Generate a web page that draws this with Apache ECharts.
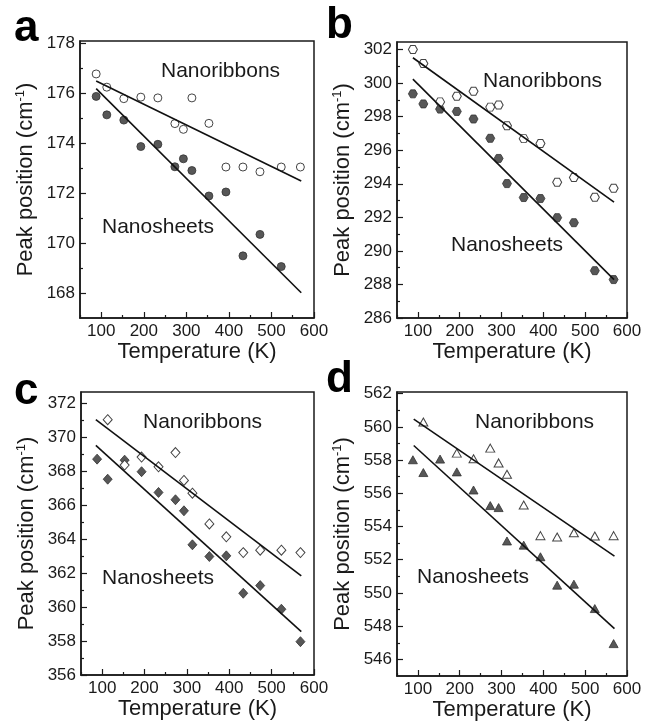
<!DOCTYPE html>
<html>
<head>
<meta charset="utf-8">
<title>Peak position vs temperature</title>
<script src="https://cdn.jsdelivr.net/npm/echarts@6/dist/echarts.min.js"></script>
<style>
  html, body { margin: 0; padding: 0; background: #fff; }
  #chart { width: 650px; height: 723px; }
</style>
</head>
<body>
<div id="chart"></div>
<script>
// temperatures (K) and x tick labels
const tempAll = [88, 113, 153, 193, 233, 273, 293, 313, 353, 393, 433, 473, 523, 568];
const xTicks = [100, 200, 300, 400, 500, 600];

// panel a - circles
const aRibbonT = [88, 113, 153, 193, 233, 273, 293, 313, 353, 393, 433, 473, 523, 568];
const aRibbonY = [176.78, 176.25, 175.79, 175.85, 175.82, 174.79, 174.56, 175.82, 174.8, 173.05, 173.05, 172.86, 173.05, 173.05];
const aSheetT = [88, 113, 153, 193, 233, 273, 293, 313, 353, 393, 433, 473, 523];
const aSheetY = [175.88, 175.14, 174.93, 173.87, 173.96, 173.06, 173.38, 172.91, 171.89, 172.05, 169.49, 170.35, 169.06];
const aFitT = [88, 570];
const aRibbonFit = [176.5, 172.49];
const aSheetFit = [176.19, 168.01];
const aYTicks = [168, 170, 172, 174, 176, 178];

// panel b - hexagons
const bRibbonT = [88, 113, 153, 193, 233, 273, 293, 313, 353, 393, 433, 473, 523, 568];
const bRibbonY = [302.0, 301.17, 298.88, 299.22, 299.51, 298.57, 298.69, 297.46, 296.69, 296.4, 294.09, 294.37, 293.2, 293.73];
const bSheetT = [88, 113, 153, 193, 233, 273, 293, 313, 353, 393, 433, 473, 523, 568];
const bSheetY = [299.36, 298.76, 298.45, 298.31, 297.86, 296.71, 295.51, 294.01, 293.18, 293.12, 291.98, 291.68, 288.82, 288.29];
const bFitT = [88, 569];
const bRibbonFit = [301.51, 292.91];
const bSheetFit = [300.24, 288.29];
const bYTicks = [286, 288, 290, 292, 294, 296, 298, 300, 302];

// panel c - diamonds
const cRibbonT = [113, 153, 193, 233, 273, 293, 313, 353, 393, 433, 473, 523, 568];
const cRibbonY = [371.02, 368.35, 368.82, 368.25, 369.09, 367.45, 366.7, 364.89, 364.13, 363.2, 363.34, 363.34, 363.2];
const cSheetT = [88, 113, 153, 193, 233, 273, 293, 313, 353, 393, 433, 473, 523, 568];
const cSheetY = [368.7, 367.52, 368.64, 367.96, 366.74, 366.31, 365.66, 363.66, 362.97, 363.01, 360.81, 361.26, 359.87, 357.96];
const cFitT = [85, 570];
const cRibbonFit = [371.02, 361.83];
const cSheetFit = [369.51, 358.55];
const cYTicks = [356, 358, 360, 362, 364, 366, 368, 370, 372];

// panel d - triangles
const dRibbonT = [113, 193, 233, 273, 293, 313, 353, 393, 433, 473, 523, 568];
const dRibbonY = [560.29, 558.42, 558.08, 558.72, 557.83, 557.15, 555.3, 553.45, 553.37, 553.63, 553.43, 553.45];
const dSheetT = [88, 113, 153, 193, 233, 273, 293, 313, 353, 393, 433, 473, 523, 568];
const dSheetY = [558.02, 557.25, 558.06, 557.29, 556.2, 555.26, 555.14, 553.13, 552.88, 552.18, 550.47, 550.53, 549.06, 546.95];
const dFitT = [90, 570];
const dRibbonFit = [560.47, 552.22];
const dSheetFit = [558.88, 547.85];
const dYTicks = [546, 548, 550, 552, 554, 556, 558, 560, 562];

const FONT = '"Liberation Sans", Arial, sans-serif';
const INK = '#1a1a1a';
const hexagon = 'path://M1,0 L3,0 L4,1.732 L3,3.464 L1,3.464 L0,1.732 Z';

const panels = [
  { letter: 'a', grid: { left: 80, top: 41, width: 234, height: 277 }, yMin: 167, yMax: 178.1, yTicks: aYTicks,
    symbol: 'circle', size: 8, rT: aRibbonT, rY: aRibbonY, sT: aSheetT, sY: aSheetY, fitT: aFitT, rFit: aRibbonFit, sFit: aSheetFit,
    letterPos: [14, 7], rText: [161, 61], sText: [102, 217] },
  { letter: 'b', grid: { left: 397, top: 42, width: 230, height: 276 }, yMin: 286, yMax: 302.45, yTicks: bYTicks,
    symbol: hexagon, size: [9, 8], rT: bRibbonT, rY: bRibbonY, sT: bSheetT, sY: bSheetY, fitT: bFitT, rFit: bRibbonFit, sFit: bSheetFit,
    letterPos: [326, 4], rText: [483, 71], sText: [451, 235] },
  { letter: 'c', grid: { left: 81, top: 392, width: 233, height: 283 }, yMin: 356, yMax: 372.65, yTicks: cYTicks,
    symbol: 'diamond', size: [9, 10], rT: cRibbonT, rY: cRibbonY, sT: cSheetT, sY: cSheetY, fitT: cFitT, rFit: cRibbonFit, sFit: cSheetFit,
    letterPos: [14, 370], rText: [143, 412], sText: [102, 568] },
  { letter: 'd', grid: { left: 397, top: 392, width: 230, height: 284 }, yMin: 545, yMax: 562.1, yTicks: dYTicks,
    symbol: 'triangle', size: [9, 8], rT: dRibbonT, rY: dRibbonY, sT: dSheetT, sY: dSheetY, fitT: dFitT, rFit: dRibbonFit, sFit: dSheetFit,
    letterPos: [326, 358], rText: [475, 412], sText: [417, 567] }
];

const grids = [], xAxes = [], yAxes = [], series = [], graphics = [];
const axisLineStyle = { color: INK, width: 1.5 };
const labelStyle = { fontSize: 17, color: INK, fontFamily: FONT };

panels.forEach((p, i) => {
  grids.push(Object.assign({ show: true, borderColor: INK, borderWidth: 1.5, backgroundColor: 'transparent' }, p.grid));

  const xMinor = xTicks.map(v => v - 50);
  const yMinor = p.yTicks.map(v => v - 1).filter(v => v > p.yMin).concat(p.yTicks.map(v => v + 1).filter(v => v < p.yMax));
  const uniqYMinor = Array.from(new Set(yMinor)).filter(v => p.yTicks.indexOf(v) < 0).sort((a, b) => a - b);

  // main x axis: labels + minor ticks
  xAxes.push({
    type: 'value', gridIndex: i, min: 50, max: 600, position: 'bottom',
    axisLine: { show: true, onZero: false, lineStyle: axisLineStyle },
    axisTick: { show: true, inside: true, length: 3, customValues: xMinor, lineStyle: { color: INK, width: 1.2 } },
    axisLabel: Object.assign({ customValues: xTicks, margin: 5 }, labelStyle),
    splitLine: { show: false },
    name: 'Temperature (K)', nameLocation: 'middle', nameGap: 22,
    nameTextStyle: { fontSize: 22, color: INK, fontFamily: FONT }
  });
  // overlay x axis: major ticks
  xAxes.push({
    type: 'value', gridIndex: i, min: 50, max: 600, position: 'bottom',
    axisLine: { show: false },
    axisTick: { show: true, inside: true, length: 6, customValues: xTicks, lineStyle: { color: INK, width: 1.2 } },
    axisLabel: { show: false },
    splitLine: { show: false }
  });

  yAxes.push({
    type: 'value', gridIndex: i, min: p.yMin, max: p.yMax, position: 'left',
    axisLine: { show: true, onZero: false, lineStyle: axisLineStyle },
    axisTick: { show: true, inside: true, length: 3, customValues: uniqYMinor, lineStyle: { color: INK, width: 1.2 } },
    axisLabel: Object.assign({ customValues: p.yTicks, margin: 5 }, labelStyle),
    splitLine: { show: false },
    name: '{n|Peak position (cm}{s|-1}{n|)}', nameLocation: 'middle', nameGap: 42, nameRotate: 90,
    nameTextStyle: {
      fontSize: 22, color: INK, fontFamily: FONT,
      rich: {
        n: { fontSize: 22, color: INK, fontFamily: FONT, lineHeight: 24 },
        s: { fontSize: 13, color: INK, fontFamily: FONT, verticalAlign: 'top' }
      }
    }
  });
  yAxes.push({
    type: 'value', gridIndex: i, min: p.yMin, max: p.yMax, position: 'left',
    axisLine: { show: false },
    axisTick: { show: true, inside: true, length: 6, customValues: p.yTicks, lineStyle: { color: INK, width: 1.2 } },
    axisLabel: { show: false },
    splitLine: { show: false }
  });

  const ax = { xAxisIndex: 2 * i, yAxisIndex: 2 * i };
  const fitLine = vals => Object.assign({
    type: 'line', data: p.fitT.map((t, k) => [t, vals[k]]), symbol: 'none', silent: true,
    lineStyle: { color: '#111', width: 1.6 }, animation: false
  }, ax);
  series.push(fitLine(p.rFit));
  series.push(fitLine(p.sFit));
  series.push(Object.assign({
    type: 'scatter', data: p.sT.map((t, k) => [t, p.sY[k]]), symbol: p.symbol, symbolSize: p.size, silent: true,
    itemStyle: { color: '#575757', borderColor: '#333', borderWidth: 0.8, opacity: 1 }, animation: false
  }, ax));
  series.push(Object.assign({
    type: 'scatter', data: p.rT.map((t, k) => [t, p.rY[k]]), symbol: p.symbol, symbolSize: p.size, silent: true,
    itemStyle: { color: '#fff', borderColor: '#444', borderWidth: 1, opacity: 1 }, animation: false
  }, ax));

  graphics.push({ type: 'text', left: p.letterPos[0], top: p.letterPos[1],
    style: { text: p.letter, font: 'bold 44px ' + FONT, fill: '#000' } });
  graphics.push({ type: 'text', left: p.rText[0], top: p.rText[1],
    style: { text: 'Nanoribbons', font: '21px ' + FONT, fill: INK } });
  graphics.push({ type: 'text', left: p.sText[0], top: p.sText[1],
    style: { text: 'Nanosheets', font: '21px ' + FONT, fill: INK } });
});

const chart = echarts.init(document.getElementById('chart'), null, { renderer: 'canvas' });
chart.setOption({
  backgroundColor: '#fff',
  animation: false,
  grid: grids,
  xAxis: xAxes,
  yAxis: yAxes,
  series: series,
  graphic: graphics
});
</script>
</body>
</html>
